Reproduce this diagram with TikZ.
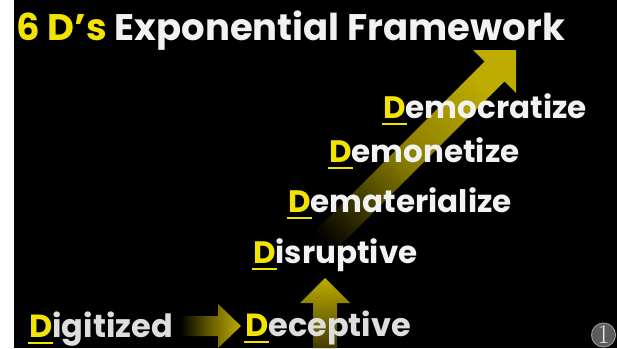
\documentclass[tikz,border=0pt]{standalone}
\usepackage{fontspec}
\newfontfamily\pop{Poppins}
\definecolor{dyel}{RGB}{242,228,0}
\definecolor{dwhite}{RGB}{242,242,242}
\definecolor{dgrey}{RGB}{222,222,222}
\definecolor{arrowc}{RGB}{190,172,0}
\definecolor{numgrey}{RGB}{92,92,92}
\newcommand{\dee}{\textcolor{dyel}{\setbox0\hbox{D}\rlap{\kern-1pt\rule[-7pt]{\dimexpr\wd0+2pt\relax}{2pt}}D}}

\begin{document}
\begin{tikzpicture}[x=1pt,y=-1pt]
\tikzstyle{lbl}=[anchor=base west,inner sep=0pt,text=dwhite,font=\pop\bfseries\fontsize{31}{31}\selectfont]
\tikzstyle{smalllbl}=[lbl,text=dgrey,font=\pop\bfseries\fontsize{32}{32}\selectfont]

\useasboundingbox (0,0) rectangle (617,348);
\fill[white] (0,0) rectangle (617,348);
\fill[black] (14,0) rectangle (617,348);

\shade[top color=arrowc,bottom color=black,shading angle=-45,middle color=arrowc!70!black] (290,256) -- (484.6,61.6) -- (473,50) -- (516,50) -- (516,93) -- (504.4,81.4) -- (310,276) -- cycle;
\shade[left color=black,right color=arrowc,middle color=arrowc!55!black] (180,316) -- (218,316) -- (218,304) -- (241,326) -- (218,348) -- (218,336) -- (180,336) -- cycle;
\shade[top color=arrowc,bottom color=arrowc!35!black] (313,348) -- (313,303) -- (300,303) -- (325,278) -- (350,303) -- (337,303) -- (337,348) -- cycle;

\node (title) [lbl,font=\pop\bfseries\fontsize{37}{37}\selectfont] at (16,40) {\textcolor{dyel}{6 D’s} Exponential Framework};
\node (democratize) [lbl] at (383,118) {\dee emocratize};
\node (demonetize) [lbl] at (329,162) {\dee emonetize};
\node (dematerialize) [lbl] at (288,212) {\dee ematerialize};
\node (disruptive) [lbl] at (253,263) {\dee isruptive};
\node (deceptive) [smalllbl] at (245,336) {\dee eceptive};
\node (digitized) [smalllbl] at (29,337) {\dee igitized};

\node (num) [circle,fill=numgrey,draw=gray!85,line width=1pt,minimum size=24pt,inner sep=0pt,text=white!90!black,font=\fontsize{27}{27}\selectfont] at (603.5,335) {1};
\end{tikzpicture}
\end{document}
